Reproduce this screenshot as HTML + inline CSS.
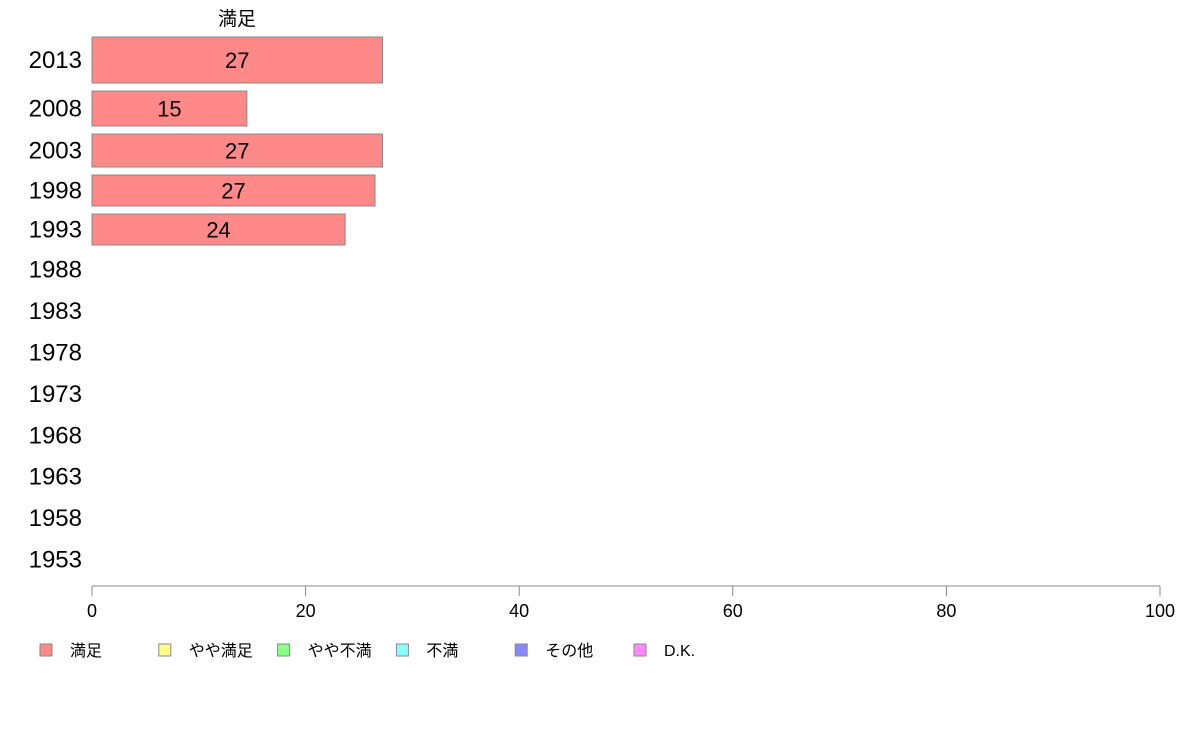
<!DOCTYPE html>
<html><head><meta charset="utf-8"><style>
body{margin:0;background:#fff;font-family:"Liberation Sans","Noto Sans CJK JP",sans-serif;}
svg text{font-family:"Liberation Sans","Noto Sans CJK JP",sans-serif;}
</style></head><body>
<svg id="chart" width="1188" height="736" xmlns="http://www.w3.org/2000/svg"></svg>
<script>
const years=["2013","2008","2003","1998","1993","1988","1983","1978","1973","1968","1963","1958","1953"];
const values=[27.2,14.5,27.2,26.5,23.7,null,null,null,null,null,null,null,null];
const valueLabels=["27","15","27","27","24","","","","","","","",""];
const rowWeights=[54,43,41,39,39,41.4,41.4,41.4,41.4,41.4,41.4,41.4,41.4];
const ticks=[0,20,40,60,80,100];
const legendLabels=["満足","やや満足","やや不満","不満","その他","D.K."];
const legendColors=["#ff8888","#ffff88","#88ff88","#88ffff","#8888ff","#ff88ff"];
const svg=document.getElementById('chart');
const NS="http://www.w3.org/2000/svg";
const x0=92,x1=1160,top0=33,axisY=586;
const xs=v=>x0+(x1-x0)*v/100;
function mk(t,a){const e=document.createElementNS(NS,t);for(const k in a)e.setAttribute(k,a[k]);svg.appendChild(e);return e;}
let t=mk('text',{x:237,y:25,'font-size':19,'text-anchor':'middle'});t.textContent="満足";


let y=top0;
years.forEach((yr,i)=>{
  const band=rowWeights[i],cy=y+band/2;
  const l=mk('text',{x:82,y:cy+8,'font-size':24,'text-anchor':'end'});l.textContent=yr;
  
  
  if(values[i]!=null){
    const h=band-8;
    const r=mk('rect',{x:x0,y:cy-h/2,width:xs(values[i])-x0,height:h,fill:'#ff8888',stroke:'#888','stroke-width':1});
    
    
    const v=mk('text',{x:(x0+xs(values[i]))/2,y:cy+8,'font-size':22,'text-anchor':'middle'});v.textContent=valueLabels[i];
    
    
  }
  y+=band;
});
const ax=mk('line',{x1:x0,y1:axisY,x2:x1,y2:axisY,stroke:'#888','stroke-width':1});


ticks.forEach(v=>{
  const tk=mk('line',{x1:xs(v),y1:axisY,x2:xs(v),y2:axisY+10,stroke:'#888','stroke-width':1});
  
  
  const tl=mk('text',{x:xs(v),y:617,'font-size':18,'text-anchor':'middle'});tl.textContent=v;
  
  
});
legendLabels.forEach((lab,i)=>{
  const lx=40+i*118.8;
  const s=mk('rect',{x:lx,y:644,width:12,height:12,fill:legendColors[i],stroke:'#888','stroke-width':1});
  
  
  const lt=mk('text',{x:lx+30,y:656,'font-size':16});lt.textContent=lab;
  
  
});
</script>
</body></html>
